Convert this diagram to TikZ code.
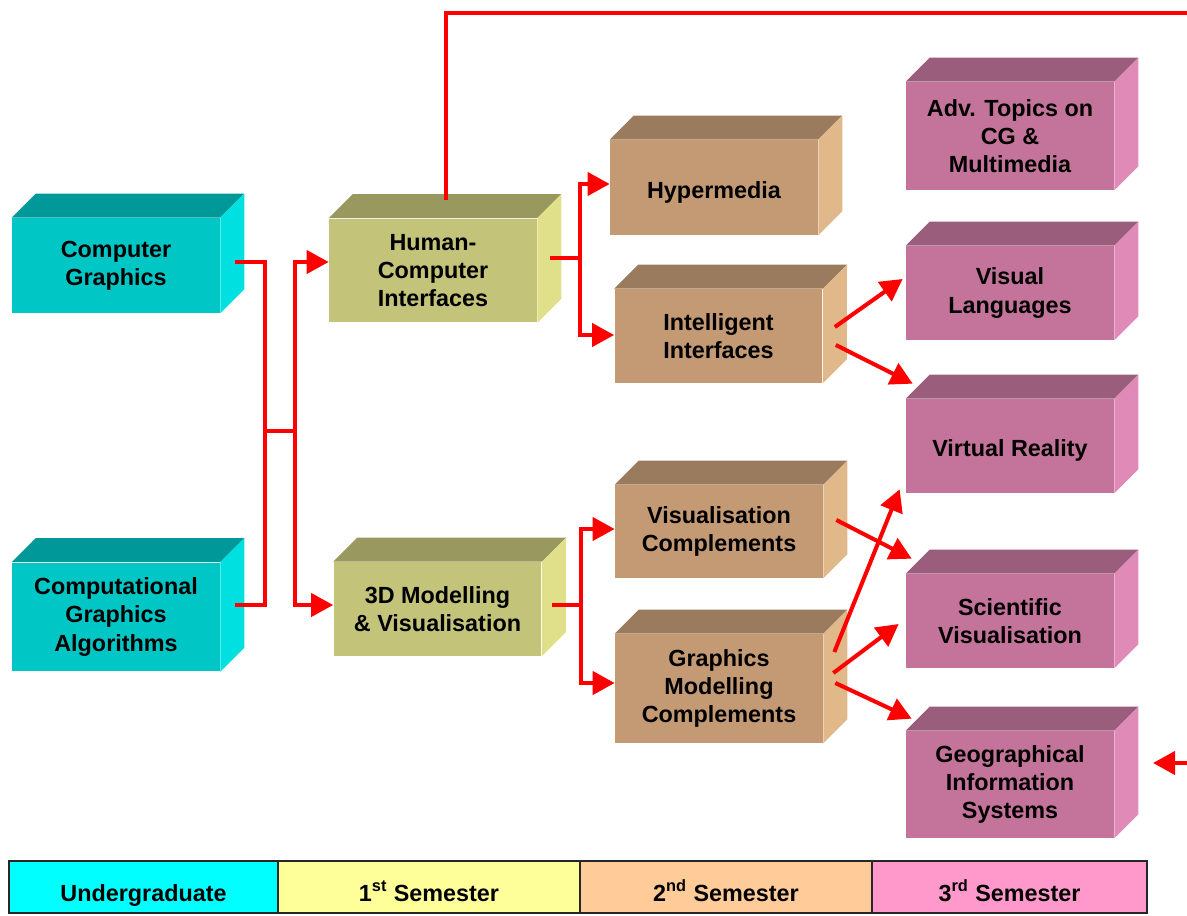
\documentclass[tikz,border=0pt]{standalone}
\usepackage{fontspec}
\setmainfont{Liberation Sans}
\usetikzlibrary{arrows.meta}

\definecolor{ugfront}{HTML}{00C6C6}
\definecolor{ugtop}{HTML}{009898}
\definecolor{ugside}{HTML}{00E0E0}
\definecolor{safront}{HTML}{C3C379}
\definecolor{satop}{HTML}{99985E}
\definecolor{saside}{HTML}{E0E08A}
\definecolor{sbfront}{HTML}{C49A74}
\definecolor{sbtop}{HTML}{9A7B5D}
\definecolor{sbside}{HTML}{E0B88A}
\definecolor{scfront}{HTML}{C4749A}
\definecolor{sctop}{HTML}{9A5D7B}
\definecolor{scside}{HTML}{E08AB8}
\definecolor{ugleg}{HTML}{00FFFF}
\definecolor{saleg}{HTML}{FFFF99}
\definecolor{sbleg}{HTML}{FFCC99}
\definecolor{scleg}{HTML}{FF99CC}

\begin{document}
\begin{tikzpicture}[x=0.02cm,y=-0.02cm]
\tikzset{
    blk/.style={rectangle, inner sep=0pt, minimum width=4.16cm, align=center,
        font=\bfseries\fontsize{13.3}{16}\selectfont},
    oneline/.style={text height=12pt, text depth=0pt},
    ug/.style={blk, fill=ugfront},
    sa/.style={blk, fill=safront},
    sb/.style={blk, fill=sbfront},
    sc/.style={blk, fill=scfront},
    link/.style={draw=red, line width=2.3pt},
    arr/.style={link, -{Triangle[length=0.44cm, width=0.46cm]}},
    leg/.style={rectangle, draw=black!85, line width=0.8pt, minimum height=1.04cm,
        inner sep=0pt, text height=18pt, text depth=2pt,
        font=\bfseries\fontsize{13.3}{16}\selectfont}
}
\useasboundingbox (0,0) rectangle (1187,916);

% --- blocks (front faces) ---
\node[ug, minimum height=1.9cm] (cg) at (116,265.5) {Computer\\Graphics};
\node[ug, minimum height=2.18cm] (cga) at (116,617) {Computational\\Graphics\\Algorithms};

\node[sa, minimum height=2.08cm] (hci) at (433,270.5) {Human-\\Computer\\Interfaces};
\node[sa, minimum height=1.88cm] (mod) at (437.5,609) {3D Modelling\\\& Visualisation};

\node[sb, oneline, minimum height=1.9cm] (hyp) at (714,187.5) {Hypermedia};
\node[sb, minimum height=1.88cm] (ii) at (718.5,336) {Intelligent\\Interfaces};
\node[sb, minimum height=1.86cm] (vc) at (719,531.5) {Visualisation\\Complements};
\node[sb, minimum height=2.18cm] (gmc) at (719,688.5) {Graphics\\Modelling\\Complements};

\node[sc, minimum height=2.16cm] (adv) at (1010,136) {Adv. Topics on\\CG \&\\Multimedia};
\node[sc, minimum height=1.88cm] (vl) at (1010,293) {Visual\\Languages};
\node[sc, oneline, minimum height=1.88cm] (vr) at (1010,446) {Virtual Reality};
\node[sc, minimum height=1.88cm] (sv) at (1010,621) {Scientific\\Visualisation};
\node[sc, minimum height=2.14cm] (gis) at (1010,784.5) {Geographical\\Information\\Systems};

% --- top and side faces ---
\foreach \n/\col in {cg/ug, cga/ug, hci/sa, mod/sa, hyp/sb, ii/sb, vc/sb, gmc/sb,
                     adv/sc, vl/sc, vr/sc, sv/sc, gis/sc} {
    \fill[\col top] (\n.north west) -- ++(24,-24) -- ([shift={(24,-24)}]\n.north east)
        -- (\n.north east) -- cycle;
    \fill[\col side] (\n.north east) -- ++(24,-24) -- ([shift={(24,-24)}]\n.south east)
        -- (\n.south east) -- cycle;
}

% --- junctions and loose ends ---
\coordinate (j1) at (265,431);
\coordinate (j2) at (295,431);
\coordinate (j3) at (580,258);
\coordinate (j4) at (581,605);
\coordinate (outR) at (1187,13);
\coordinate (inR) at (1187,763);
\coordinate (inTip) at (1153,763);

% --- undergraduate to 1st semester ---
\draw[link] ([shift={(15,-3.5)}]cg.east) -| (j1) |- ([shift={(15,-12)}]cga.east);
\draw[link] (j1) -- (j2);
\draw[arr] (j2) |- ([shift={(0,-8.5)}]hci.west);
\draw[arr] (j2) |- ([shift={(0,-4)}]mod.west);

% --- 1st to 2nd semester ---
\draw[link] ([shift={(13,-12.5)}]hci.east) -- (j3);
\draw[arr] (j3) |- ([shift={(0,-3.5)}]hyp.west);
\draw[arr] (j3) |- ([shift={(0,-1)}]ii.west);
\draw[link] ([shift={(10,-4)}]mod.east) -- (j4);
\draw[arr] (j4) |- ([shift={(0,-2.5)}]vc.west);
\draw[arr] (j4) |- ([shift={(0,-5.5)}]gmc.west);
\draw[link] ([shift={(13,-18.5)}]hci.north) |- (outR);

% --- 2nd to 3rd semester ---
\draw[arr] ([shift={(12,-9)}]ii.east) -- ([shift={(-3,-14)}]vl.west);
\draw[arr] ([shift={(13,9)}]ii.east) -- ([shift={(7,-15)}]vr.north west);
\draw[arr] ([shift={(13,-11.5)}]vc.east) -- ([shift={(6,-15)}]sv.north west);
\draw[arr] ([shift={(11,-36.5)}]gmc.east) -- ([shift={(-6,-4)}]vr.south west);
\draw[arr] ([shift={(10,-15.5)}]gmc.east) -- ([shift={(-7,3)}]sv.west);
\draw[arr] ([shift={(12,-5.5)}]gmc.east) -- ([shift={(6,-12)}]gis.north west);
\draw[arr] (inR) -- (inTip);

% --- legend ---
\node[leg, fill=ugleg, minimum width=5.38cm] (lug) at (143.5,887) {Undergraduate};
\node[leg, fill=saleg, minimum width=6.04cm] (lsa) at (429,887) {1\textsuperscript{st} Semester};
\node[leg, fill=sbleg, minimum width=5.84cm] (lsb) at (726,887) {2\textsuperscript{nd} Semester};
\node[leg, fill=scleg, minimum width=5.5cm] (lsc) at (1009.5,887) {3\textsuperscript{rd} Semester};
\end{tikzpicture}
\end{document}
